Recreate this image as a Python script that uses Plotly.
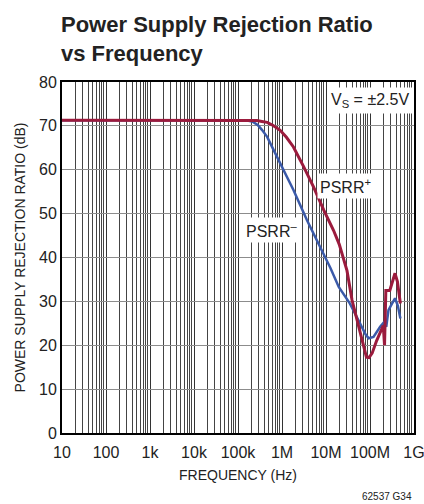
import plotly.graph_objects as go

# PSRR+ (red) and PSRR- (blue), frequency in Hz, value in dB
psrr_pos_freq = [10, 1e5, 2.0e5, 2.7e5, 3.5e5, 4.6e5, 6.3e5, 9.1e5, 1.26e6, 1.82e6,
                 3.1e6, 5.2e6, 8.9e6, 1.48e7, 2.0e7, 2.3e7, 2.63e7, 3.0e7, 3.9e7,
                 6.0e7, 7.2e7, 8.3e7, 9.5e7, 1.12e8, 1.41e8, 1.70e8, 2.0e8, 2.14e8,
                 2.29e8, 2.82e8, 3.7e8, 4.2e8, 4.9e8]
psrr_pos_db = [71.3, 71.3, 71.3, 71.2, 71.0, 70.8, 70.1, 69.0, 67.4, 65.2,
               60.7, 56.1, 50.8, 46.2, 43.0, 41.0, 39.4, 37.0, 30.3,
               22.7, 19.5, 17.3, 17.2, 18.2, 21.0, 22.7, 24.5, 20.0,
               32.5, 32.5, 36.4, 34.5, 29.5]

psrr_neg_freq = [10, 1.5e5, 2.1e5, 2.8e5, 3.5e5, 4.6e5, 6.3e5, 9.1e5, 1.82e6,
                 3.7e6, 7.4e6, 1.26e7, 1.95e7, 3.5e7, 6.0e7, 7.9e7, 9.3e7, 1.2e8,
                 1.7e8, 2.14e8, 2.34e8, 2.63e8, 3.16e8, 3.7e8, 4.3e8, 4.9e8]
psrr_neg_db = [71.3, 71.3, 71.0, 70.2, 69.1, 67.5, 64.7, 61.4, 55.4,
               48.5, 42.4, 37.6, 33.3, 29.5, 24.9, 22.5, 21.6, 21.9,
               24.2, 25.4, 24.2, 28.0, 29.5, 30.7, 29.0, 26.1]

x_tick_vals = [10, 100, 1e3, 1e4, 1e5, 1e6, 1e7, 1e8, 1e9]
x_tick_text = ["10", "100", "1k", "10k", "100k", "1M", "10M", "100M", "1G"]
y_tick_vals = [0, 10, 20, 30, 40, 50, 60, 70, 80]

RED = "#9b1b3d"
BLUE = "#3b5aa9"
FONT = "Liberation Sans, Arial, Helvetica, sans-serif"

fig = go.Figure()
fig.add_trace(go.Scatter(x=psrr_neg_freq, y=psrr_neg_db, mode="lines",
                         line=dict(color=BLUE, width=2.5), name="PSRR-"))
fig.add_trace(go.Scatter(x=psrr_pos_freq, y=psrr_pos_db, mode="lines",
                         line=dict(color=RED, width=3), name="PSRR+"))

fig.update_layout(
    width=424, height=504,
    margin=dict(l=62, r=10, t=82, b=71),
    paper_bgcolor="white", plot_bgcolor="white",
    showlegend=False,
    font=dict(family=FONT, color="#222222", size=16),
    title=dict(text="<b>Power Supply Rejection Ratio<br>vs Frequency</b>",
               x=61 / 424, xanchor="left", yref="container", y=1 - 32 / 504, yanchor="top",
               font=dict(family=FONT, size=22, color="#222222")),
)

fig.update_xaxes(
    type="log", range=[1, 9], automargin=False,
    tickmode="array", tickvals=x_tick_vals, ticktext=x_tick_text,
    showgrid=True, gridcolor="#333333", gridwidth=1,
    minor=dict(dtick="D1", showgrid=True, gridcolor="#444444", gridwidth=1, ticks=""),
    showline=True, linecolor="black", linewidth=2, mirror=True,
    ticks="", tickfont=dict(size=16), ticklabeloverflow="allow", ticklabelstandoff=4,
    title=dict(text="FREQUENCY (Hz)", font=dict(size=14), standoff=10),
)
fig.update_yaxes(
    range=[0, 80], tickmode="array", tickvals=y_tick_vals, automargin=False,
    showgrid=True, gridcolor="#8c8c8c", gridwidth=1,
    showline=True, linecolor="black", linewidth=2, mirror=True,
    ticks="", tickfont=dict(size=16), zeroline=False,
    title=dict(text="POWER SUPPLY REJECTION RATIO (dB)", font=dict(size=14), standoff=10),
)

fig.add_annotation(text="V<sub>S</sub> = ±2.5V", xref="paper", yref="paper",
                   x=0.875, y=0.946, xanchor="center", yanchor="middle",
                   showarrow=False, bgcolor="white", font=dict(size=16), borderpad=3)
fig.add_annotation(text="PSRR<sup>+</sup>", xref="paper", yref="paper",
                   x=0.804, y=0.704, xanchor="center", yanchor="middle",
                   showarrow=False, bgcolor="white", font=dict(size=16), borderpad=2)
fig.add_annotation(text="PSRR<sup>–</sup>", xref="paper", yref="paper",
                   x=0.595, y=0.578, xanchor="center", yanchor="middle",
                   showarrow=False, bgcolor="white", font=dict(size=16), borderpad=2)
fig.add_annotation(text="62537 G34", xref="paper", yref="paper",
                   x=1.0, y=-(496 - 433) / 351, xanchor="right", yanchor="middle",
                   showarrow=False, font=dict(size=10))

# the default page has an 8px body margin; drop it so the figure fills the window
fig.write_html("out.html", config={"displayModeBar": False},
               post_script="document.body.style.margin='0';")
